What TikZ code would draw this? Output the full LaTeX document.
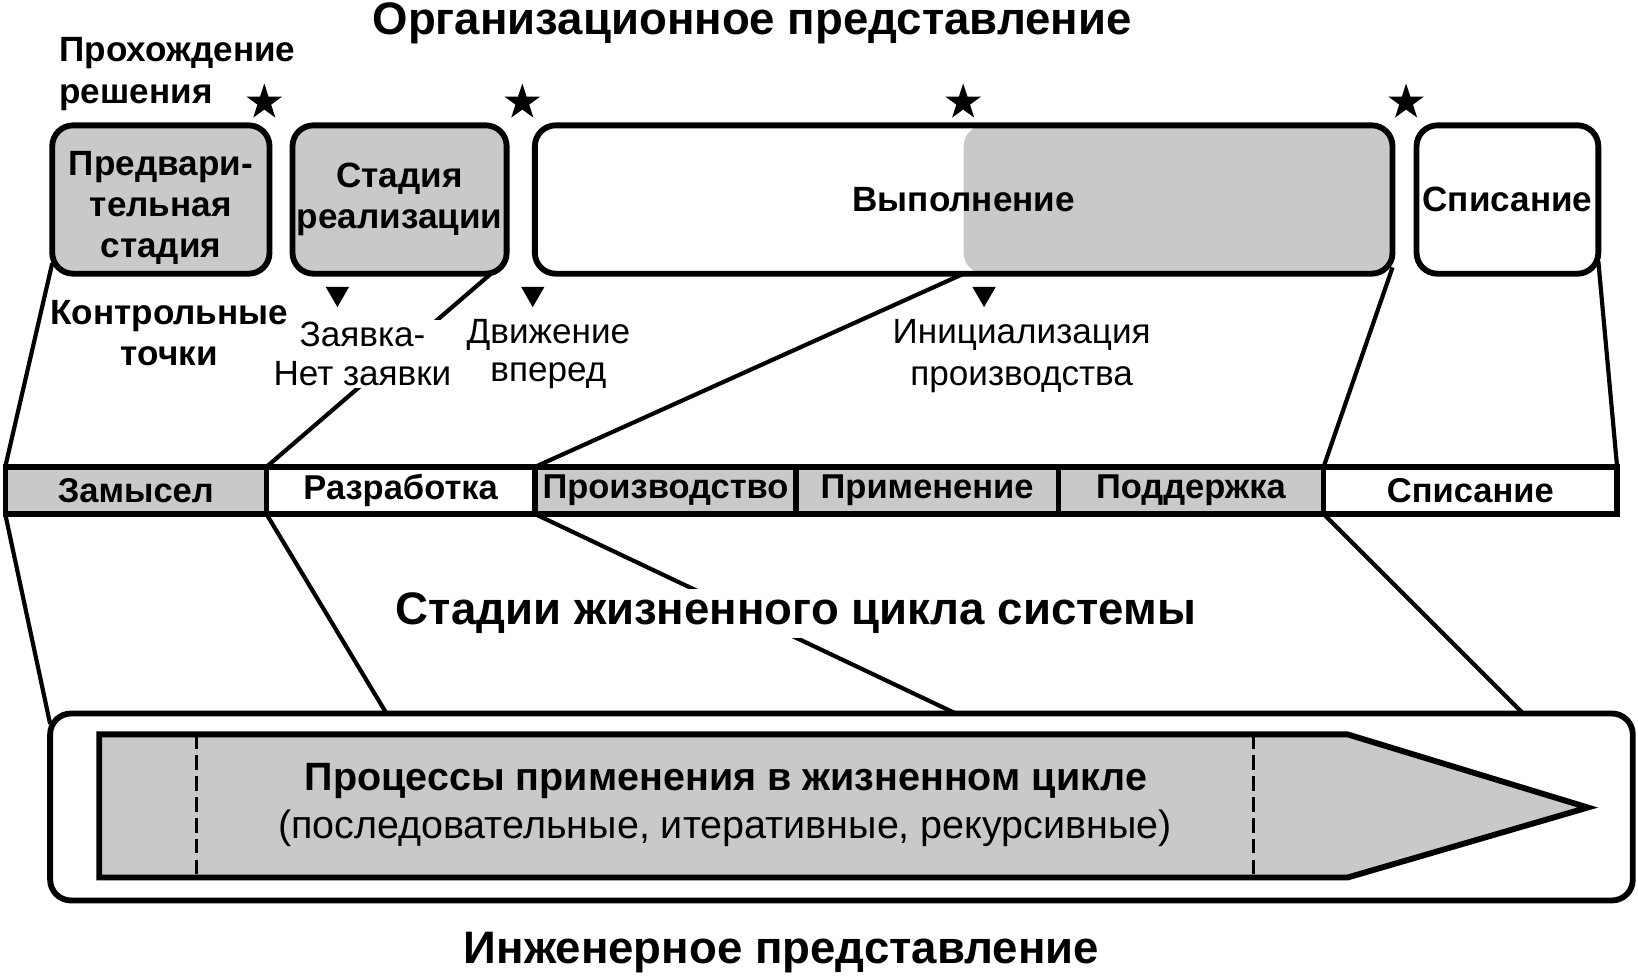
\documentclass[tikz,border=0pt]{standalone}
\usepackage{fontspec}
\setmainfont{Liberation Sans}
\usetikzlibrary{shapes.geometric}
\begin{document}
\begin{tikzpicture}[x=0.5pt,y=-0.5pt,
  every node/.style={inner sep=0pt, outer sep=0pt},
  conn/.style={line width=2pt},
  shadefill/.style={fill=black!21},
  rbox/.style={draw, line width=2.8pt, rounded corners=10pt, align=center,
    font=\fontsize{16.8}{19.5}\selectfont\bfseries},
  cell/.style={draw, line width=2.6pt, minimum height=22.5pt,
    font=\fontsize{16.5}{19}\selectfont\bfseries},
  big/.style={font=\fontsize{21.8}{26}\selectfont\bfseries},
  med/.style={font=\fontsize{16.8}{18.5}\selectfont, align=center},
  medb/.style={font=\fontsize{16.8}{19.5}\selectfont\bfseries, align=center},
  proc/.style={font=\fontsize{18.9}{22}\selectfont},
  starmark/.style={star, star points=5, star point ratio=2.6, fill=black, minimum size=18pt},
  tri/.style={regular polygon, regular polygon sides=3, shape border rotate=180, fill=black, minimum size=13pt},
  dashline/.style={line width=1.8pt, dash pattern=on 7pt off 3pt},
]
\useasboundingbox (0,0) rectangle (1568,935);

% titles
\node[big] (title) at (720,22) {Организационное представление};
\node[medb, align=left, anchor=west, font=\fontsize{16.8}{20}\selectfont\bfseries] (decision) at (57,71) {Прохождение\\решения};

% stars
\node[starmark] (s1) at (253,98) {};
\node[starmark] (s2) at (500,98) {};
\node[starmark] (s3) at (922,98) {};
\node[starmark] (s4) at (1346,98) {};

% organisational boxes
\node[rbox, shadefill, minimum width=104pt, minimum height=71pt] (pre) at (154,191) {};
\node[medb] (pretext) at (154,199) {Предвари-\\тельная\\стадия};
\node[rbox, shadefill, minimum width=102.5pt, minimum height=71pt] (real) at (382.5,191) {Стадия\\реализации};
\node[rbox, fill=white, minimum width=410.5pt, minimum height=71pt,
  path picture={\fill[black!21] (path picture bounding box.north) rectangle (path picture bounding box.south east);}]
  (exe) at (922.5,191) {Выполнение};
\node[rbox, fill=white, minimum width=87pt, minimum height=71pt] (ret) at (1443,191) {Списание};

% triangles
\node[tri] (t1) at (323,281) {};
\node[tri] (t2) at (510,281) {};
\node[tri] (t3) at (942,281) {};

% lifecycle bar
\node[cell, shadefill, minimum width=125pt] (c1) at (130,469.5) {Замысел};
\node[cell, fill=white, minimum width=128.5pt] (c2) at (383.5,469.5) {Разработка};
\node[cell, shadefill, minimum width=125pt] (c3) at (637,469.5) {Производство};
\node[cell, shadefill, minimum width=125.5pt] (c4) at (887.5,469.5) {Применение};
\node[cell, shadefill, minimum width=127pt] (c5) at (1140,469.5) {Поддержка};
\node[cell, fill=white, minimum width=140.5pt] (c6) at (1407.5,469.5) {Списание};

% upper connectors
\draw[conn] ([yshift=5pt]pre.south west) -- (c1.north west);
\draw[conn] ([xshift=-7.5pt]real.south east) -- (c2.north west);
\draw[conn] (exe.south) -- (c3.north west);
\draw[conn] ([yshift=3pt]exe.south east) -- (c6.north west);
\draw[conn] ([yshift=6pt]ret.south east) -- (c6.north east);

% labels under boxes
\node[med, fill=white, inner sep=1pt] (bid) at (347,339) {Заявка-\\Нет заявки};
\node[medb] (ctrl) at (162,319) {Контрольные\\точки};
\node[med] (fwd) at (525,339) {Движение\\вперед};
\node[med, font=\fontsize{16.8}{20}\selectfont] (init) at (978,341) {Инициализация\\производства};

% engineering box
\node[draw, line width=2.8pt, rounded corners=10pt, minimum width=757.5pt, minimum height=89.5pt] (low) at (805.5,772.5) {};
\draw[line width=2.8pt, shadefill] (95,703) -- (1290,703) -- (1520,773) -- (1290,840) -- (95,840) -- cycle;
\draw[dashline] (188,703) -- (188,840);
\draw[dashline] (1200,703) -- (1200,840);
\node[proc, font=\fontsize{18.9}{22}\selectfont\bfseries] (proc1) at (695,748) {Процессы применения в жизненном цикле};
\node[proc] (proc2) at (694,793) {(последовательные, итеративные, рекурсивные)};

% lower connectors
\draw[conn] (c1.south west) -- ([yshift=-5pt]low.north west);
\draw[conn] (c2.south west) -- (370,0 |- low.north);
\draw[conn] (c3.south west) -- (915,0 |- low.north);
\draw[conn] (c6.south west) -- (1458,0 |- low.north);

\node[big, fill=white, inner sep=2pt] (stages) at (762,587) {Стадии жизненного цикла системы};
\node[big] (eng) at (748,912) {Инженерное представление};
\end{tikzpicture}
\end{document}
